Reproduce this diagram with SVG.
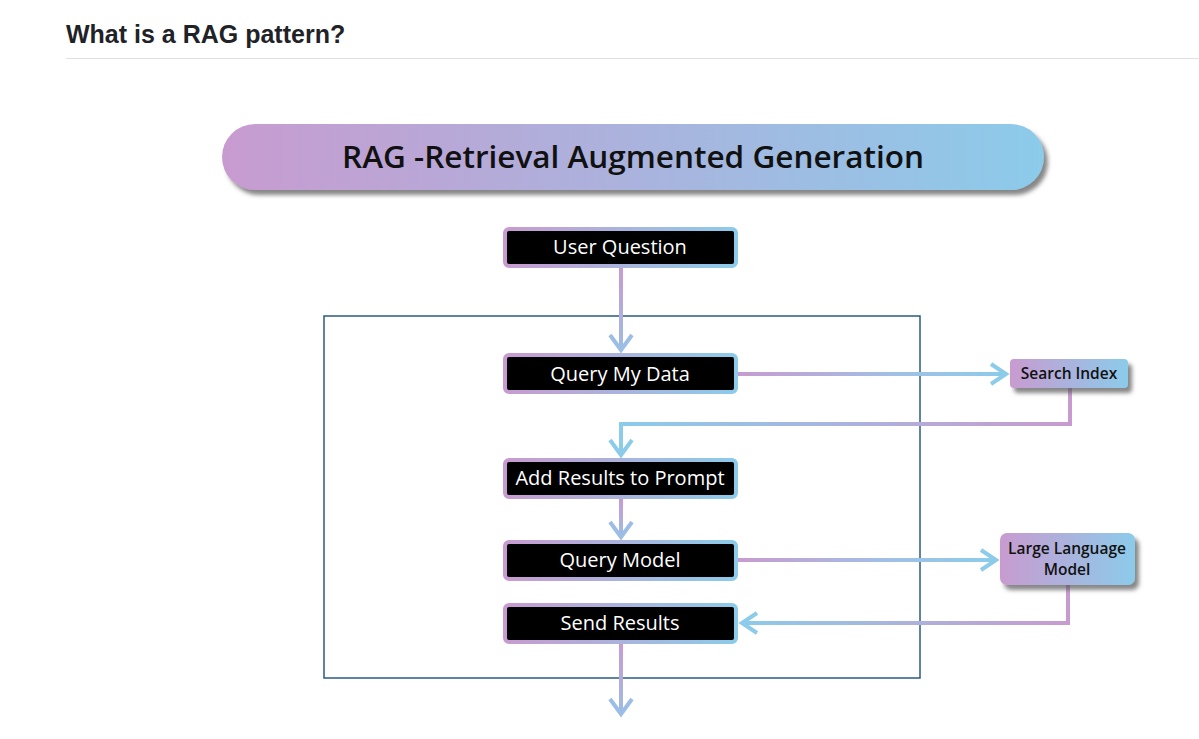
<svg xmlns="http://www.w3.org/2000/svg" width="1199" height="739" viewBox="0 0 1199 739">
<defs>
<linearGradient id="gh" x1="0" y1="0" x2="1" y2="0"><stop offset="0" stop-color="#c89bd0"/><stop offset="1" stop-color="#8ccbea"/></linearGradient>
<linearGradient id="g1" gradientUnits="userSpaceOnUse" x1="738" y1="0" x2="1008" y2="0"><stop offset="0" stop-color="#c89bd0"/><stop offset="0.6" stop-color="#9fc1e6"/><stop offset="1" stop-color="#8ccbea"/></linearGradient>
<linearGradient id="g2" gradientUnits="userSpaceOnUse" x1="1070" y1="0" x2="621" y2="0"><stop offset="0" stop-color="#c89bd0"/><stop offset="1" stop-color="#8ccbea"/></linearGradient>
<linearGradient id="gv1" gradientUnits="userSpaceOnUse" x1="0" y1="267" x2="0" y2="352"><stop offset="0" stop-color="#c89bd0"/><stop offset="1" stop-color="#9cbde6"/></linearGradient>
<linearGradient id="gv2" gradientUnits="userSpaceOnUse" x1="0" y1="499" x2="0" y2="538"><stop offset="0" stop-color="#c89bd0"/><stop offset="1" stop-color="#9cbde6"/></linearGradient>
<linearGradient id="gv3" gradientUnits="userSpaceOnUse" x1="0" y1="643" x2="0" y2="715"><stop offset="0" stop-color="#c89bd0"/><stop offset="1" stop-color="#9cbde6"/></linearGradient>
<linearGradient id="g3" gradientUnits="userSpaceOnUse" x1="738" y1="0" x2="998" y2="0"><stop offset="0" stop-color="#c89bd0"/><stop offset="0.6" stop-color="#9fc1e6"/><stop offset="1" stop-color="#8ccbea"/></linearGradient>
<linearGradient id="g4" gradientUnits="userSpaceOnUse" x1="1068" y1="0" x2="740" y2="0"><stop offset="0" stop-color="#c89bd0"/><stop offset="1" stop-color="#8ccbea"/></linearGradient>
<filter id="sh" x="-10%" y="-20%" width="130%" height="160%"><feDropShadow dx="4" dy="5" stdDeviation="2" flood-color="#555" flood-opacity="0.7"/></filter>
<style>
.box{fill:#000;stroke:url(#gh);stroke-width:4}
.bt{font-family:"Open Sans","Liberation Sans",sans-serif;font-size:20px;fill:#fff;text-anchor:middle}
.st{font-family:"Open Sans","Liberation Sans",sans-serif;font-size:15.5px;font-weight:600;fill:#111;text-anchor:middle}
.ln{fill:none;stroke-width:4;stroke-linejoin:miter}
</style>
</defs>
<rect width="1199" height="739" fill="#fff"/>
<text x="66" y="43" font-family="Liberation Sans,Arial,sans-serif" font-size="25" font-weight="bold" fill="#1f2328">What is a RAG pattern?</text>
<line x1="66" y1="58.5" x2="1199" y2="58.5" stroke="#dde1e6" stroke-width="1"/>
<g id="banner"><rect x="222" y="124" width="822" height="66" rx="33" fill="url(#gh)" filter="url(#sh)"/>
<text x="633" y="168" font-family="Open Sans,Liberation Sans,sans-serif" font-size="31.5" font-weight="600" fill="#111" text-anchor="middle">RAG -Retrieval Augmented Generation</text></g>
<rect id="frame" x="324" y="316" width="596" height="362" fill="none" stroke="#2a5b7f" stroke-width="1.5"/>
<g id="connectors">
<path class="ln" d="M621 267V350" stroke="url(#gv1)"/><path class="ln" d="M610 335L621 350L632 335" stroke="#9cbde6"/>
<path class="ln" d="M738 374H1006" stroke="url(#g1)"/><path class="ln" d="M991 364L1006 374L991 384" stroke="#8ccbea"/>
<path class="ln" d="M1070 388V424H621V455" stroke="url(#g2)"/><path class="ln" d="M610 440L621 455L632 440" stroke="#8ccbea"/>
<path class="ln" d="M621 499V537" stroke="url(#gv2)"/><path class="ln" d="M610 522L621 537L632 522" stroke="#9cbde6"/>
<path class="ln" d="M738 560H996" stroke="url(#g3)"/><path class="ln" d="M981 550L996 560L981 570" stroke="#8ccbea"/>
<path class="ln" d="M1068 585V623H742" stroke="url(#g4)"/><path class="ln" d="M757 613L742 623L757 633" stroke="#8ccbea"/>
<path class="ln" d="M621 643V714" stroke="url(#gv3)"/><path class="ln" d="M610 699L621 714L632 699" stroke="#9cbde6"/>
</g>
<g id="user-question"><rect class="box" x="505" y="229" width="231" height="37" rx="4"/><text class="bt" x="620" y="254">User Question</text></g>
<g id="query-my-data"><rect class="box" x="505" y="355" width="231" height="37" rx="4"/><text class="bt" x="620" y="381">Query My Data</text></g>
<g id="add-results"><rect class="box" x="505" y="460" width="231" height="37" rx="4"/><text class="bt" x="620" y="485">Add Results to Prompt</text></g>
<g id="query-model"><rect class="box" x="505" y="542" width="231" height="37" rx="4"/><text class="bt" x="620" y="567">Query Model</text></g>
<g id="send-results"><rect class="box" x="505" y="605" width="231" height="37" rx="4"/><text class="bt" x="620" y="630">Send Results</text></g>
<g id="search-index"><rect x="1010" y="359" width="118" height="29" rx="4" fill="url(#gh)" filter="url(#sh)"/><text class="st" x="1069" y="379">Search Index</text></g>
<g id="llm"><rect x="1000" y="533" width="135" height="52" rx="7" fill="url(#gh)" filter="url(#sh)"/><text class="st" x="1067" y="554">Large Language</text><text class="st" x="1067" y="575">Model</text></g>
</svg>
